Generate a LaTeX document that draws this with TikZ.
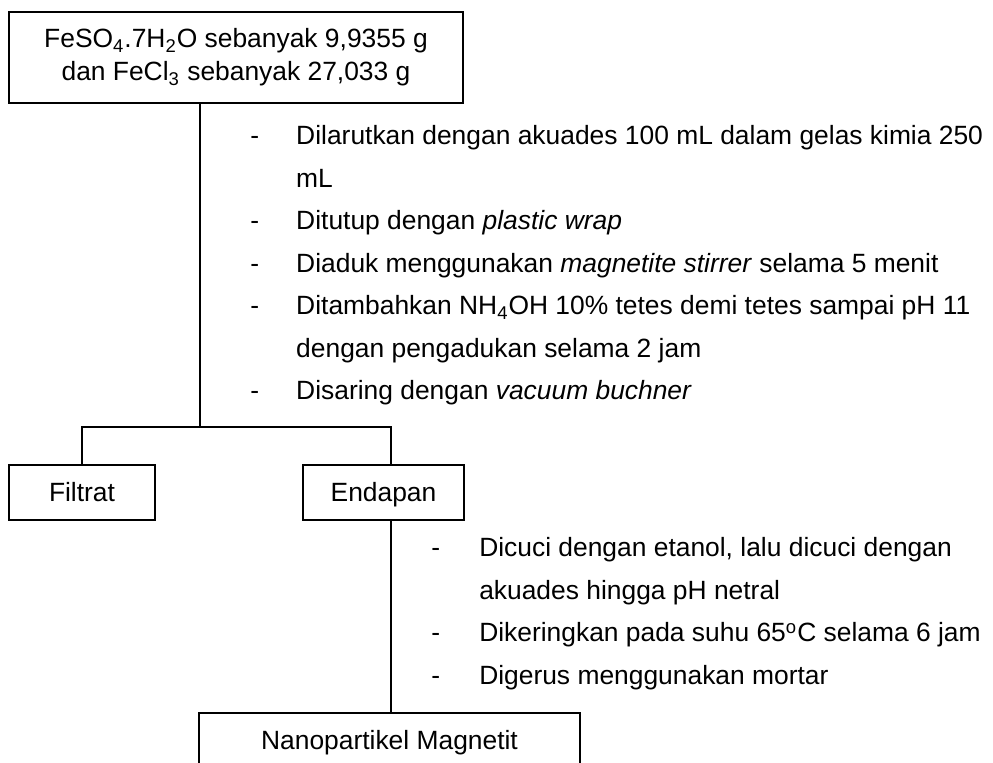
\documentclass[tikz,border=0pt]{standalone}
\usepackage{fontspec}
\setmainfont{Liberation Sans}
\begin{document}
\begin{tikzpicture}[x=0.5pt,y=-0.5pt,line width=1.25pt,
  every node/.style={font=\fontsize{13.2}{16.5}\selectfont},
  box/.style={draw,line width=1.25pt,inner sep=0pt,align=center},
  onebox/.style={box,minimum height=27.5pt,text height=9.5pt,text depth=0pt},
  item/.style={anchor=base west,inner sep=0pt},
  dashmark/.style={anchor=base west,inner sep=0pt}]
\useasboundingbox (0,0) rectangle (993,763);
\clip (0,0) rectangle (993,763);
% boxes
\node[box,minimum width=227pt,minimum height=45.5pt] (top) at (236,57.5)
  {FeSO\textsubscript{4}.7H\textsubscript{2}O sebanyak 9,9355 g\\dan FeCl\textsubscript{3} sebanyak 27,033 g};
\node[onebox,minimum width=73pt] (filtrat) at (82,492.5) {Filtrat};
\node[onebox,minimum width=80.5pt] (endapan) at (383.5,492.5) {Endapan};
\node[onebox,minimum width=190.5pt] (nano) at (389.5,740.5) {Nanopartikel Magnetit};
% connectors
\coordinate (jL) at (200,427);
\coordinate (jR) at (391,427);
\draw (top.south -| jL) -- (jL);
\draw (filtrat.north) |- (jR) -- (endapan.north -| jR);
\draw (endapan.south -| jR) -- (nano.north -| jR);
% first list
\node[dashmark] (d1) at (249,145) {-};
\node[item] (t1) at (295,145) {Dilarutkan dengan akuades 100 mL dalam gelas kimia 250};
\node[item] (t1b) at (295,187.5) {mL};
\node[dashmark] (d2) at (249,230) {-};
\node[item] (t2) at (295,230) {Ditutup dengan \textit{plastic wrap}};
\node[dashmark] (d3) at (249,272.5) {-};
\node[item] (t3) at (295,272.5) {Diaduk menggunakan \textit{magnetite stirrer} selama 5 menit};
\node[dashmark] (d4) at (249,315) {-};
\node[item] (t4) at (295,315) {Ditambahkan NH\textsubscript{4}OH 10\% tetes demi tetes sampai pH 11};
\node[item] (t4b) at (295,357.5) {dengan pengadukan selama 2 jam};
\node[dashmark] (d5) at (249,400) {-};
\node[item] (t5) at (295,400) {Disaring dengan \textit{vacuum buchner}};
% second list
\node[dashmark] (e1) at (430,557) {-};
\node[item] (u1) at (478,557) {Dicuci dengan etanol, lalu dicuci dengan};
\node[item] (u1b) at (478,599.5) {akuades hingga pH netral};
\node[dashmark] (e2) at (430,642) {-};
\node[item] (u2) at (478,642) {Dikeringkan pada suhu 65\textsuperscript{o}C selama 6 jam};
\node[dashmark] (e3) at (430,684.5) {-};
\node[item] (u3) at (478,684.5) {Digerus menggunakan mortar};
\end{tikzpicture}
\end{document}
